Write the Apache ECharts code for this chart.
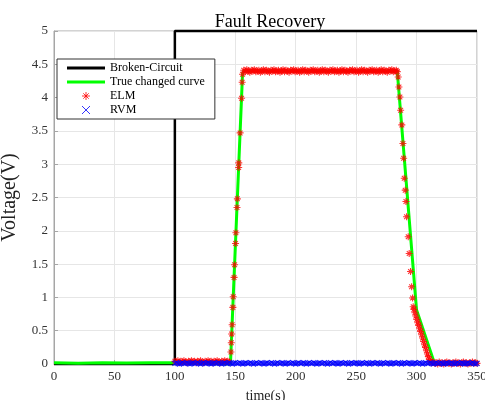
<!DOCTYPE html>
<html>
<head>
<meta charset="utf-8">
<script src="https://cdn.jsdelivr.net/npm/echarts@6/dist/echarts.min.js"></script>
<style>
  html, body { margin: 0; padding: 0; background: #fff; }
  #chart { width: 485px; height: 400px; }
</style>
</head>
<body>
<div id="chart"></div>
<script>
// Tick values for both axes
const xTicks = [0, 50, 100, 150, 200, 250, 300, 350];
const yTicks = [0, 0.5, 1, 1.5, 2, 2.5, 3, 3.5, 4, 4.5, 5];

// Fault signal: 0 before the break, 5 afterwards
const brokenCircuit = [[0, 0], [100, 0], [100, 5], [350, 5]];

// Reference voltage curve
const trueCurve = [
  [0, 0.02], [20, 0.01], [40, 0.02], [60, 0.015], [80, 0.02], [99, 0.02],
  [100, 0.0], [146, 0.0], [156, 4.36], [157, 4.4], [284, 4.4],
  [300, 0.81], [315, 0.0], [350, 0.0]
];

// ELM estimates
const elm = [
  // before the rise
  [100, 0.04], [101.25, 0.03], [102.5, 0.05], [103.75, 0.02], [105, 0.04], [106.25, 0.03], [107.5, 0.05], [108.75, 0.03],
  [110, 0.02], [111.25, 0.04], [112.5, 0.03], [113.75, 0.05], [115, 0.03], [116.25, 0.04], [117.5, 0.02], [118.75, 0.04],
  [120, 0.03], [121.25, 0.05], [122.5, 0.03], [123.75, 0.02], [125, 0.04], [126.25, 0.03], [127.5, 0.05], [128.75, 0.03],
  [130, 0.04], [131.25, 0.02], [132.5, 0.04], [133.75, 0.03], [135, 0.05], [136.25, 0.03], [137.5, 0.02], [138.75, 0.04],
  [140, 0.03], [141.25, 0.05], [142.5, 0.03], [143.75, 0.04], [145, 0.03],
  // rise
  [146.4, 0.18], [146.7, 0.32], [147.0, 0.45], [147.4, 0.59], [148.0, 0.85], [148.3, 1.01],
  [149.0, 1.30], [149.4, 1.49], [150.2, 1.81], [150.5, 1.97], [151.4, 2.35], [151.7, 2.48],
  [152.8, 2.95], [152.9, 3.02], [154.0, 3.47], [155.2, 3.99], [155.7, 4.23], [156.0, 4.35],
  // plateau
  [157, 4.41], [158.25, 4.39], [159.5, 4.42], [160.75, 4.40], [162, 4.38], [163.25, 4.41], [164.5, 4.40], [165.75, 4.42],
  [167, 4.39], [168.25, 4.40], [169.5, 4.41], [170.75, 4.38], [172, 4.40], [173.25, 4.42], [174.5, 4.39], [175.75, 4.41],
  [177, 4.40], [178.25, 4.38], [179.5, 4.41], [180.75, 4.40], [182, 4.42], [183.25, 4.39], [184.5, 4.40], [185.75, 4.41],
  [187, 4.38], [188.25, 4.40], [189.5, 4.42], [190.75, 4.39], [192, 4.41], [193.25, 4.40], [194.5, 4.38], [195.75, 4.41],
  [197, 4.40], [198.25, 4.42], [199.5, 4.39], [200.75, 4.40], [202, 4.41], [203.25, 4.38], [204.5, 4.40], [205.75, 4.42],
  [207, 4.39], [208.25, 4.41], [209.5, 4.40], [210.75, 4.38], [212, 4.41], [213.25, 4.40], [214.5, 4.42], [215.75, 4.39],
  [217, 4.40], [218.25, 4.41], [219.5, 4.38], [220.75, 4.40], [222, 4.42], [223.25, 4.39], [224.5, 4.41], [225.75, 4.40],
  [227, 4.38], [228.25, 4.41], [229.5, 4.40], [230.75, 4.42], [232, 4.39], [233.25, 4.40], [234.5, 4.41], [235.75, 4.38],
  [237, 4.40], [238.25, 4.42], [239.5, 4.39], [240.75, 4.41], [242, 4.40], [243.25, 4.38], [244.5, 4.41], [245.75, 4.40],
  [247, 4.42], [248.25, 4.39], [249.5, 4.40], [250.75, 4.41], [252, 4.38], [253.25, 4.40], [254.5, 4.42], [255.75, 4.39],
  [257, 4.41], [258.25, 4.40], [259.5, 4.38], [260.75, 4.41], [262, 4.40], [263.25, 4.42], [264.5, 4.39], [265.75, 4.40],
  [267, 4.41], [268.25, 4.38], [269.5, 4.40], [270.75, 4.42], [272, 4.39], [273.25, 4.41], [274.5, 4.40], [275.75, 4.38],
  [277, 4.41], [278.25, 4.40], [279.5, 4.42], [280.75, 4.39], [282, 4.40], [283.25, 4.41], [284, 4.39],
  // fall
  [284.8, 4.31], [285.4, 4.16], [286.2, 4.01], [286.8, 3.81], [287.8, 3.59], [288.7, 3.31],
  [289.3, 3.09], [289.8, 2.79], [290.6, 2.61], [291.2, 2.44], [291.7, 2.21], [293.1, 1.91],
  [293.9, 1.66], [295.0, 1.39], [295.9, 1.16], [296.7, 0.99], [297.2, 0.86],
  [297.8, 0.82], [298.6, 0.77], [299.4, 0.72], [300.2, 0.67], [301.0, 0.62], [301.8, 0.58],
  [302.6, 0.53], [303.4, 0.49], [304.2, 0.44], [305.0, 0.39], [305.8, 0.34], [306.6, 0.29],
  [307.4, 0.25], [308.2, 0.20], [309.0, 0.15], [309.8, 0.11], [310.6, 0.07], [311.4, 0.04],
  // after the fall
  [312.5, 0.02], [313.75, 0.03], [315, 0.01], [316.25, 0.02], [317.5, 0.00], [318.75, 0.03], [320, 0.01], [321.25, 0.02],
  [322.5, 0.00], [323.75, 0.02], [325, 0.03], [326.25, 0.01], [327.5, 0.02], [328.75, 0.00], [330, 0.02], [331.25, 0.01],
  [332.5, 0.03], [333.75, 0.01], [335, 0.02], [336.25, 0.00], [337.5, 0.02], [338.75, 0.03], [340, 0.01], [341.25, 0.02],
  [342.5, 0.00], [343.75, 0.02], [345, 0.01], [346.25, 0.03], [347.5, 0.01], [348.75, 0.02], [350, 0.01]
];

// RVM estimates
const rvm = [
  [100, 0.01], [101.25, 0.02], [102.5, 0.01], [103.75, 0.00], [105, 0.01], [106.25, 0.02], [107.5, 0.01], [108.75, 0.01],
  [110, 0.02], [111.25, 0.01], [112.5, 0.00], [113.75, 0.01], [115, 0.02], [116.25, 0.01], [117.5, 0.01], [118.75, 0.02],
  [120, 0.01], [121.25, 0.00], [122.5, 0.01], [123.75, 0.02], [125, 0.01], [126.25, 0.01], [127.5, 0.02], [128.75, 0.01],
  [130, 0.00], [131.25, 0.01], [132.5, 0.02], [133.75, 0.01], [135, 0.01], [136.25, 0.02], [137.5, 0.01], [138.75, 0.00],
  [140, 0.01], [141.25, 0.02], [142.5, 0.01], [143.75, 0.01], [145, 0.02], [146.25, 0.01], [147.5, 0.00], [148.75, 0.01],
  [150, 0.02], [151.25, 0.01], [152.5, 0.01], [153.75, 0.02], [155, 0.01], [156.25, 0.00], [157.5, 0.01], [158.75, 0.02],
  [160, 0.01], [161.25, 0.01], [162.5, 0.02], [163.75, 0.01], [165, 0.00], [166.25, 0.01], [167.5, 0.02], [168.75, 0.01],
  [170, 0.01], [171.25, 0.02], [172.5, 0.01], [173.75, 0.00], [175, 0.01], [176.25, 0.02], [177.5, 0.01], [178.75, 0.01],
  [180, 0.02], [181.25, 0.01], [182.5, 0.00], [183.75, 0.01], [185, 0.02], [186.25, 0.01], [187.5, 0.01], [188.75, 0.02],
  [190, 0.01], [191.25, 0.00], [192.5, 0.01], [193.75, 0.02], [195, 0.01], [196.25, 0.01], [197.5, 0.02], [198.75, 0.01],
  [200, 0.00], [201.25, 0.01], [202.5, 0.02], [203.75, 0.01], [205, 0.01], [206.25, 0.02], [207.5, 0.01], [208.75, 0.00],
  [210, 0.01], [211.25, 0.02], [212.5, 0.01], [213.75, 0.01], [215, 0.02], [216.25, 0.01], [217.5, 0.00], [218.75, 0.01],
  [220, 0.02], [221.25, 0.01], [222.5, 0.01], [223.75, 0.02], [225, 0.01], [226.25, 0.00], [227.5, 0.01], [228.75, 0.02],
  [230, 0.01], [231.25, 0.01], [232.5, 0.02], [233.75, 0.01], [235, 0.00], [236.25, 0.01], [237.5, 0.02], [238.75, 0.01],
  [240, 0.01], [241.25, 0.02], [242.5, 0.01], [243.75, 0.00], [245, 0.01], [246.25, 0.02], [247.5, 0.01], [248.75, 0.01],
  [250, 0.02], [251.25, 0.01], [252.5, 0.00], [253.75, 0.01], [255, 0.02], [256.25, 0.01], [257.5, 0.01], [258.75, 0.02],
  [260, 0.01], [261.25, 0.00], [262.5, 0.01], [263.75, 0.02], [265, 0.01], [266.25, 0.01], [267.5, 0.02], [268.75, 0.01],
  [270, 0.00], [271.25, 0.01], [272.5, 0.02], [273.75, 0.01], [275, 0.01], [276.25, 0.02], [277.5, 0.01], [278.75, 0.00],
  [280, 0.01], [281.25, 0.02], [282.5, 0.01], [283.75, 0.01], [285, 0.02], [286.25, 0.01], [287.5, 0.00], [288.75, 0.01],
  [290, 0.02], [291.25, 0.01], [292.5, 0.01], [293.75, 0.02], [295, 0.01], [296.25, 0.00], [297.5, 0.01], [298.75, 0.02],
  [300, 0.01], [301.25, 0.01], [302.5, 0.02], [303.75, 0.01], [305, 0.00], [306.25, 0.01], [307.5, 0.02], [308.75, 0.01],
  [310, 0.01], [311.25, 0.02], [312.5, 0.01], [313.75, 0.00], [315, 0.01], [316.25, 0.02], [317.5, 0.01], [318.75, 0.01],
  [320, 0.02], [321.25, 0.01], [322.5, 0.00], [323.75, 0.01], [325, 0.02], [326.25, 0.01], [327.5, 0.01], [328.75, 0.02],
  [330, 0.01], [331.25, 0.00], [332.5, 0.01], [333.75, 0.02], [335, 0.01], [336.25, 0.01], [337.5, 0.02], [338.75, 0.01],
  [340, 0.00], [341.25, 0.01], [342.5, 0.02], [343.75, 0.01], [345, 0.01], [346.25, 0.02], [347.5, 0.01], [348.75, 0.00],
  [350, 0.01]
];

const seriesNames = ['Broken-Circuit', 'True changed curve', 'ELM', 'RVM'];

const FONT = '"Liberation Serif", "Times New Roman", serif';
const asterisk = 'path://M5,0L5,10M0,5L10,5M1.6,1.6L8.4,8.4M1.6,8.4L8.4,1.6';
const cross = 'path://M0,0L10,10M0,10L10,0';
const lineIcon = 'path://M0,0H38V3H0Z';

const chart = echarts.init(document.getElementById('chart'), null, { renderer: 'canvas' });

chart.setOption({
  animation: false,
  backgroundColor: '#ffffff',
  title: {
    text: 'Fault Recovery',
    left: 265, top: 8, textAlign: 'center',
    textStyle: { fontFamily: FONT, fontSize: 18, fontWeight: 'normal', color: '#000' }
  },
  grid: {
    left: 54, right: 8, top: 31, bottom: 36,
    containLabel: false,
    outerBoundsMode: 'none',
    show: true, borderColor: '#a6a6a6', borderWidth: 1
  },
  legend: {
    data: [
      { name: seriesNames[0], icon: lineIcon },
      { name: seriesNames[1], icon: lineIcon },
      { name: seriesNames[2], itemStyle: { color: 'rgba(0,0,0,0)', borderColor: '#ff0000', borderWidth: 1 } },
      { name: seriesNames[3], itemStyle: { color: 'rgba(0,0,0,0)', borderColor: '#0000ff', borderWidth: 1 } }
    ],
    orient: 'vertical',
    left: 57, top: 59,
    padding: [3, 10, 3, 10],
    itemGap: 2,
    itemWidth: 38,
    itemHeight: 8,
    backgroundColor: '#fff',
    borderColor: '#333',
    borderWidth: 1,
    textStyle: { fontFamily: FONT, fontSize: 12, color: '#000', lineHeight: 12 }
  },
  xAxis: {
    type: 'value', min: xTicks[0], max: xTicks[xTicks.length - 1], interval: 50,
    name: 'time(s)', nameLocation: 'middle', nameGap: 25,
    nameTextStyle: { fontFamily: FONT, fontSize: 14, color: '#222' },
    axisLine: { show: true, lineStyle: { color: '#a6a6a6', width: 1 } },
    axisTick: { show: true, inside: true, length: 4, lineStyle: { color: '#a6a6a6' } },
    axisLabel: { fontFamily: FONT, fontSize: 13, color: '#333', margin: 6 },
    splitLine: { show: true, lineStyle: { color: '#e6e6e6', width: 1 } }
  },
  yAxis: {
    type: 'value', min: yTicks[0], max: yTicks[yTicks.length - 1], interval: 0.5,
    name: 'Voltage(V)', nameLocation: 'middle', nameGap: 34, nameRotate: 90,
    nameTextStyle: { fontFamily: FONT, fontSize: 20, color: '#222' },
    axisLine: { show: true, lineStyle: { color: '#a6a6a6', width: 1 } },
    axisTick: { show: true, inside: true, length: 4, lineStyle: { color: '#a6a6a6' } },
    axisLabel: { fontFamily: FONT, fontSize: 13, color: '#333', margin: 6 },
    splitLine: { show: true, lineStyle: { color: '#e6e6e6', width: 1 } }
  },
  series: [
    {
      name: seriesNames[0], type: 'line', data: brokenCircuit,
      symbol: 'none', clip: false, z: 2,
      lineStyle: { color: '#000', width: 2.5 },
      itemStyle: { color: '#000' }
    },
    {
      name: seriesNames[1], type: 'line', data: trueCurve,
      symbol: 'none', clip: false, z: 3,
      lineStyle: { color: '#00ff00', width: 3 },
      itemStyle: { color: '#00ff00' }
    },
    {
      name: seriesNames[2], type: 'scatter', data: elm,
      symbol: asterisk, symbolSize: 7, z: 4,
      itemStyle: { color: 'rgba(0,0,0,0)', borderColor: '#ff0000', borderWidth: 1.1 }
    },
    {
      name: seriesNames[3], type: 'scatter', data: rvm,
      symbol: cross, symbolSize: 5, z: 5,
      itemStyle: { color: 'rgba(0,0,0,0)', borderColor: '#0000ff', borderWidth: 1.2 }
    }
  ]
});
</script>
</body>
</html>
